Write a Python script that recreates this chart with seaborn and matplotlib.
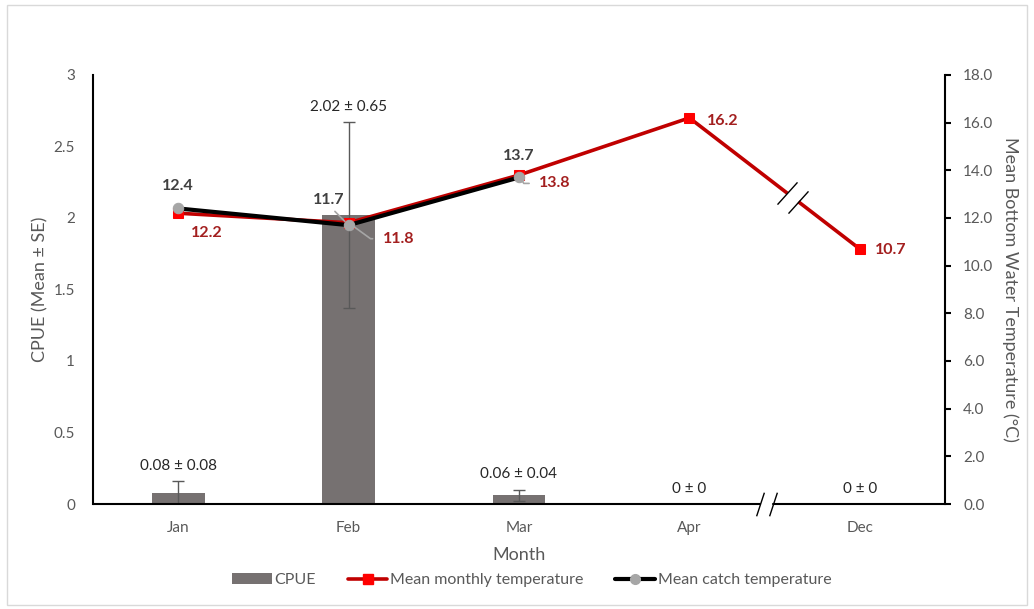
import numpy as np
import pandas as pd
import matplotlib
matplotlib.use("Agg")
import matplotlib.pyplot as plt
import matplotlib.path as mpath
from matplotlib.patches import Rectangle, Patch
from matplotlib.lines import Line2D
from matplotlib.transforms import blended_transform_factory
import seaborn as sns

# ---- data ----
months = ["Jan", "Feb", "Mar", "Apr", "Dec"]
cpue_mean = [0.08, 2.02, 0.06, 0.0, 0.0]
cpue_se = [0.08, 0.65, 0.04, 0.0, 0.0]
monthly_temp = [12.2, 11.8, 13.8, 16.2, 10.7]
catch_months = ["Jan", "Feb", "Mar"]
catch_temp = [12.4, 11.7, 13.7]

sns.set_theme(style="white")
plt.rcParams["font.family"] = ["Lato", "DejaVu Sans"]

BAR = "#767171"
RED_LINE = "#C00000"
RED_MARK = "#FF0000"
RED_TEXT = "#A31F1F"
GREY_MARK = "#A6A6A6"
TICK_TXT = "#595959"
DARK_TXT = "#404040"

fig = plt.figure(figsize=(10.34, 6.09), dpi=100)
fig.patches.append(Rectangle((0.007, 0.007), 0.986, 0.985, transform=fig.transFigure,
                             fill=False, edgecolor="#D9D9D9", linewidth=1.0))
ax = fig.add_axes([0.0899, 0.1724, 0.8240, 0.7045])

pos = np.arange(len(months))
df = pd.DataFrame({"Month": months, "CPUE": cpue_mean})
sns.barplot(data=df, x="Month", y="CPUE", order=months, color=BAR, width=0.31,
            saturation=1, errorbar=None, ax=ax)
for p in ax.patches:
    p.set_edgecolor("none")
ax.errorbar(pos, cpue_mean, yerr=cpue_se, fmt="none", ecolor="#595959",
            elinewidth=1.0, capsize=4, capthick=1.0, zorder=3)

# value labels above the bars
for x, m, s in zip(pos, cpue_mean, cpue_se):
    txt = f"{m:g} ± {s:g}"
    ax.annotate(txt, (x, m + s), xytext=(0, 11), textcoords="offset points",
                ha="center", va="center", fontsize=11, color="#262626")

ax.set_ylim(0, 3)
ax.set_yticks([0, 0.5, 1, 1.5, 2, 2.5, 3])
ax.set_yticklabels(["0", "0.5", "1", "1.5", "2", "2.5", "3"])
ax.set_xlim(-0.5, len(months) - 0.5)
ax.tick_params(axis="both", length=0, labelsize=11, labelcolor=TICK_TXT)
ax.tick_params(axis="y", pad=13)
ax.tick_params(axis="x", pad=12)
ax.set_xlabel("Month", fontsize=13, color=TICK_TXT, labelpad=9)
ax.set_ylabel("CPUE (Mean ± SE)", fontsize=13, color=TICK_TXT, labelpad=4)
for side in ["top", "right", "bottom"]:
    ax.spines[side].set_visible(False)
ax.spines["left"].set_color("black")
ax.spines["left"].set_linewidth(1.5)

# x axis drawn in two pieces with a break between Apr and Dec
xb = blended_transform_factory(ax.transData, ax.transAxes)
brk_lo, brk_hi = 3.415, 3.49
ax.plot([-0.5, brk_lo], [0, 0], color="black", lw=1.5, transform=xb, clip_on=False, zorder=5)
ax.plot([brk_hi, len(months) - 0.5], [0, 0], color="black", lw=1.5, transform=xb, clip_on=False, zorder=5)
axis_slash = mpath.Path([(-0.33, -1.0), (0.33, 1.0)], [mpath.Path.MOVETO, mpath.Path.LINETO])
ax.plot([brk_lo, brk_hi], [0, 0], linestyle="none", marker=axis_slash, markersize=17,
        markeredgecolor="black", markeredgewidth=1.0, transform=xb, clip_on=False, zorder=6)

# temperature on the secondary axis
ax2 = ax.twinx()
sns.lineplot(x=pos, y=monthly_temp, ax=ax2, color=RED_LINE, linewidth=2.6,
             marker="s", markersize=7.5, markerfacecolor=RED_MARK, markeredgecolor=RED_MARK,
             legend=False, zorder=4)
catch_pos = [months.index(m) for m in catch_months]
sns.lineplot(x=catch_pos, y=catch_temp, ax=ax2, color="black", linewidth=3.0,
             marker="o", markersize=7.5, markerfacecolor=GREY_MARK, markeredgecolor=GREY_MARK,
             legend=False, zorder=5)

# break mark on the Apr-Dec segment
i_apr = months.index("Apr")
t1, t2 = 0.575, 0.64
def on_seg(t):
    return (i_apr + t, monthly_temp[i_apr] + t * (monthly_temp[i_apr + 1] - monthly_temp[i_apr]))
(xa, ya), (xc, yc) = on_seg(t1), on_seg(t2)
ax2.plot([xa, xc], [ya, yc], color="white", lw=4, solid_capstyle="butt", zorder=6)
line_slash = mpath.Path([(-0.9, -1.0), (0.9, 1.0)], [mpath.Path.MOVETO, mpath.Path.LINETO])
ax2.plot([xa, xc], [ya, yc], linestyle="none", marker=line_slash, markersize=16,
         markeredgecolor="black", markeredgewidth=1.0, zorder=7)

# temperature value labels, some with leader lines
leader = dict(arrowstyle="-", color=GREY_MARK, lw=1.2)
catch_offsets = [(0, 16), (-14, 18), (0, 15.5)]
catch_leaders = [None,
                 dict(leader, relpos=(0.55, 0.0), shrinkA=1, shrinkB=4),
                 None]
for x, v, off, ld in zip(catch_pos, catch_temp, catch_offsets, catch_leaders):
    kw = {"arrowprops": ld} if ld else {}
    ax2.annotate(f"{v:.1f}", (x, v), xytext=off, textcoords="offset points", ha="center",
                 va="center", fontsize=11.5, fontweight="bold", color=DARK_TXT, zorder=8, **kw)

month_offsets = [(21, -14.5), (36, -11.5), (26, -6), (24, -2), (22, -1)]
month_leaders = [None,
                 dict(leader, relpos=(0.0, 0.5), shrinkA=5, shrinkB=5,
                      connectionstyle="angle,angleA=0,angleB=-36,rad=0"),
                 dict(leader, relpos=(0.0, 0.5), shrinkA=5, shrinkB=1,
                      connectionstyle="angle,angleA=0,angleB=-60,rad=0"),
                 None, None]
for x, v, off, ld in zip(pos, monthly_temp, month_offsets, month_leaders):
    kw = {"arrowprops": ld} if ld else {}
    ax2.annotate(f"{v:.1f}", (x, v), xytext=off, textcoords="offset points", ha="center",
                 va="center", fontsize=11.5, fontweight="bold", color=RED_TEXT, zorder=8, **kw)

ax2.set_ylim(0, 18)
ax2.set_yticks(np.arange(0, 18.1, 2))
ax2.set_yticklabels([f"{v:.1f}" for v in np.arange(0, 18.1, 2)])
ax2.tick_params(axis="y", direction="out", length=4, width=1.5, color="black",
                labelsize=11, labelcolor=TICK_TXT, pad=9)
ax2.set_ylabel("Mean Bottom Water Temperature (°C)", fontsize=13, color=TICK_TXT,
               rotation=270, labelpad=18)
for side in ["top", "left", "bottom"]:
    ax2.spines[side].set_visible(False)
ax2.spines["right"].set_color("black")
ax2.spines["right"].set_linewidth(1.5)
ax2.grid(False)
ax.grid(False)
ax.set_xlim(-0.5, len(months) - 0.5)

handles = [
    Patch(facecolor=BAR, edgecolor="none", label="CPUE"),
    Line2D([], [], color=RED_LINE, lw=2.6, marker="s", markersize=7,
           markerfacecolor=RED_MARK, markeredgecolor=RED_MARK, label="Mean monthly temperature"),
    Line2D([], [], color="black", lw=3.0, marker="o", markersize=7,
           markerfacecolor=GREY_MARK, markeredgecolor=GREY_MARK, label="Mean catch temperature"),
]
fig.legend(handles=handles, loc="center", bbox_to_anchor=(0.514, 0.047), ncol=3,
           frameon=False, fontsize=11.5, handlelength=2.5, handleheight=0.7,
           handletextpad=0.15, columnspacing=2.0, labelcolor=TICK_TXT)

fig.savefig("out.png", dpi=100)
